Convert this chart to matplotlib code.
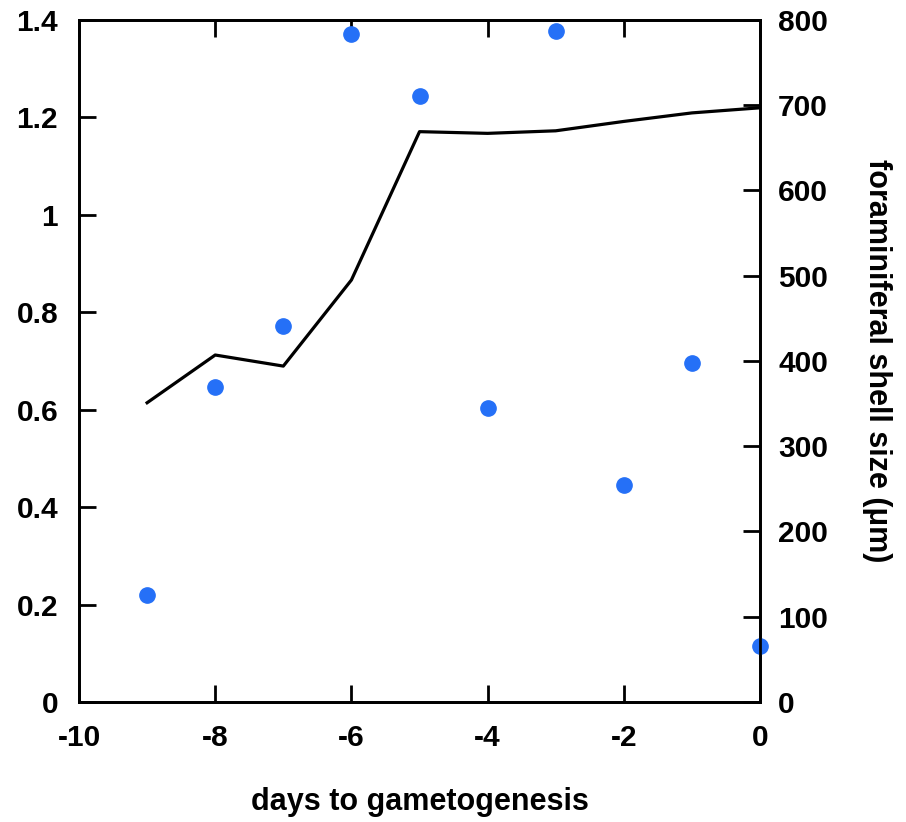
import matplotlib
matplotlib.use('Agg')
import matplotlib.pyplot as plt

# days before gametogenesis
days = [-9, -8, -7, -6, -5, -4, -3, -2, -1, 0]
# blue dots, left axis
dot_values = [0.22, 0.647, 0.772, 1.371, 1.244, 0.603, 1.377, 0.446, 0.695, 0.115]
# black line, right axis (shell size in um)
shell_size = [351, 407, 394, 495, 669, 667, 670, 681, 691, 697]

plt.rcParams['font.family'] = ['Liberation Sans', 'DejaVu Sans']
plt.rcParams['font.weight'] = 'bold'
plt.rcParams['font.size'] = 21.5
plt.rcParams['axes.unicode_minus'] = False

fig = plt.figure(figsize=(9.06, 8.22), dpi=100)
ax = fig.add_axes([0.0872, 0.146, 0.7517, 0.8297])

ax.plot(days, dot_values, 'o', color='#2570f7', markersize=11, zorder=3, clip_on=False)
ax.set_xlim(-10, 0)
ax.set_ylim(0, 1.4)
ax.set_xticks([-10, -8, -6, -4, -2, 0])
ax.set_yticks([0, 0.2, 0.4, 0.6, 0.8, 1.0, 1.2, 1.4])
ax.set_yticklabels(['0', '0.2', '0.4', '0.6', '0.8', '1', '1.2', '1.4'])
ax.tick_params(axis='x', direction='in', length=12, width=2, pad=16, top=True)
ax.tick_params(axis='y', direction='in', length=12, width=2, pad=15)
ax.set_xlabel('days to gametogenesis', fontweight='bold', fontsize=22, labelpad=25)

ax2 = ax.twinx()
ax2.plot(days, shell_size, color='black', linewidth=2.3, zorder=2)
ax2.set_ylim(0, 800)
ax2.set_yticks(range(0, 801, 100))
ax2.tick_params(axis='y', direction='in', length=12, width=2, pad=13)
ax2.set_ylabel('foraminiferal shell size (μm)', fontweight='bold', fontsize=22,
               rotation=270, labelpad=46)

for a in (ax, ax2):
    for s in a.spines.values():
        s.set_linewidth(2)

fig.savefig('out.png', dpi=100)
